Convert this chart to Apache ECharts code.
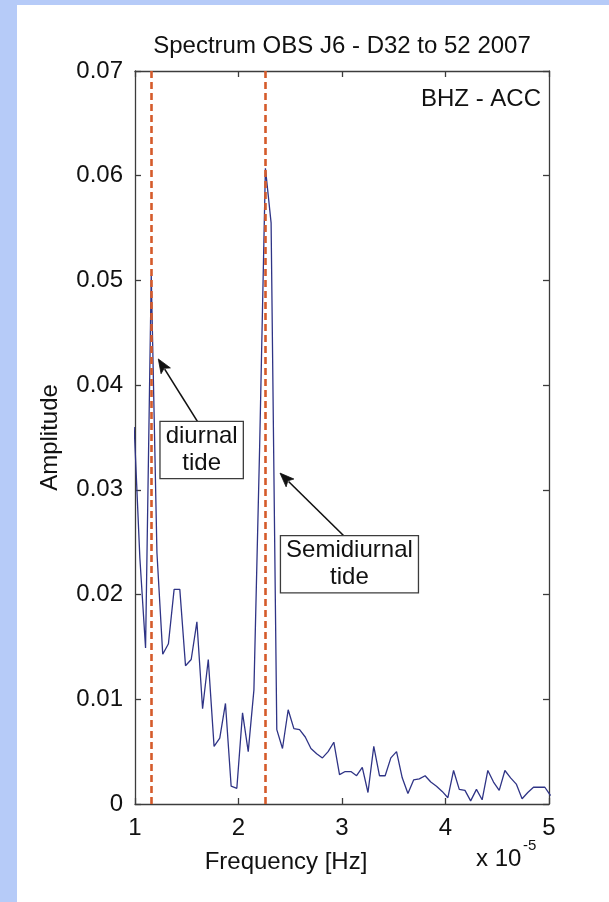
<!DOCTYPE html>
<html>
<head>
<meta charset="utf-8">
<script src="https://cdn.jsdelivr.net/npm/echarts@6/dist/echarts.min.js"></script>
<style>
  html, body { margin: 0; padding: 0; width: 609px; height: 902px; background: #b6cbf8; overflow: hidden; }
  #frame { position: absolute; left: 17px; top: 5px; right: 0; bottom: 0; background: #ffffff; }
  #chart { position: absolute; left: 0; top: 0; width: 609px; height: 902px; }
</style>
</head>
<body>
<div id="frame"></div>
<div id="chart"></div>
<script>
// Frequency bins (units of 1e-5 Hz) of the 21-day record
const frequency = [
  0.992, 1.047, 1.102, 1.157, 1.212, 1.268, 1.323, 1.378, 1.433, 1.488,
  1.543, 1.598, 1.653, 1.708, 1.764, 1.819, 1.874, 1.929, 1.984, 2.039,
  2.094, 2.149, 2.204, 2.260, 2.315, 2.370, 2.425, 2.480, 2.535, 2.590,
  2.645, 2.700, 2.755, 2.811, 2.866, 2.921, 2.976, 3.031, 3.086, 3.141,
  3.196, 3.251, 3.307, 3.362, 3.417, 3.472, 3.527, 3.582, 3.637, 3.692,
  3.747, 3.803, 3.858, 3.913, 3.968, 4.023, 4.078, 4.133, 4.188, 4.243,
  4.299, 4.354, 4.409, 4.464, 4.519, 4.574, 4.629, 4.684, 4.740, 4.795,
  4.850, 4.905, 4.960, 5.015
];

// Spectral amplitude at each bin
const amplitude = [
  0.0360, 0.0235, 0.0149, 0.0505, 0.0240, 0.0143, 0.0153, 0.0205, 0.0205, 0.0132,
  0.0138, 0.0174, 0.0091, 0.0138, 0.0055, 0.0063, 0.0096, 0.0017, 0.0015, 0.0087,
  0.0050, 0.0109, 0.0340, 0.0607, 0.0555, 0.0071, 0.0053, 0.0090, 0.0072, 0.0071,
  0.0064, 0.0053, 0.0048, 0.0044, 0.0050, 0.0059, 0.0028, 0.0031, 0.0031, 0.0027,
  0.0035, 0.0011, 0.0055, 0.0027, 0.0027, 0.0044, 0.0050, 0.0025, 0.0010, 0.0023,
  0.0024, 0.0027, 0.0021, 0.0017, 0.0012, 0.0006, 0.0032, 0.0014, 0.0013, 0.0003,
  0.0014, 0.0004, 0.0032, 0.0021, 0.0013, 0.0032, 0.0025, 0.0019, 0.0005, 0.0011,
  0.0016, 0.0016, 0.0016, 0.0008
];

// Tidal frequencies marked by dashed lines
const tideFrequencies = [1.157, 2.262];

// Axis ranges and tick steps
const xRange = [1, 5];
const xStep = 1;
const yRange = [0, 0.07];
const yStep = 0.01;

// Callouts: label text, box centre, arrow tail and arrow tip (data coordinates)
const calloutText = ['diurnal\ntide', 'Semidiurnal\ntide'];
const calloutBox = [[1.644, 0.0338], [3.072, 0.0229]];
const calloutTail = [[1.612, 0.0364], [3.029, 0.0255]];
const calloutTip = [[1.225, 0.0425], [2.401, 0.0316]];

const FONT = '"Liberation Sans", Arial, Helvetica, sans-serif';
const AXIS_COLOR = '#3c3c3c';
const FS = 24;

const chart = echarts.init(document.getElementById('chart'), null, { renderer: 'canvas' });

const gridBox = { left: 135, top: 71, width: 414, height: 733 };

function axisBase(extra) {
  return Object.assign({
    type: 'value',
    axisLine: { show: true, onZero: false, lineStyle: { color: AXIS_COLOR, width: 1.3 } },
    axisTick: { show: true, inside: true, length: 6, lineStyle: { color: AXIS_COLOR, width: 1.3 } },
    splitLine: { show: false }
  }, extra);
}

const seriesData = frequency.map((f, i) => [f, amplitude[i]]);

chart.setOption({
  animation: false,
  backgroundColor: 'transparent',
  grid: Object.assign({ containLabel: false }, gridBox),
  xAxis: [
    axisBase({
      min: xRange[0], max: xRange[1], interval: xStep, position: 'bottom',
      axisLabel: { show: true, color: '#111', fontFamily: FONT, fontSize: FS, margin: 12 }
    }),
    axisBase({
      min: xRange[0], max: xRange[1], interval: xStep, position: 'top',
      axisLabel: { show: false }
    })
  ],
  yAxis: [
    axisBase({
      min: yRange[0], max: yRange[1], interval: yStep, position: 'left',
      axisLabel: {
        show: true, color: '#111', fontFamily: FONT, fontSize: FS, margin: 12,
        formatter: v => (Math.abs(v) < 1e-9 ? '0' : v.toFixed(2))
      }
    }),
    axisBase({
      min: yRange[0], max: yRange[1], interval: yStep, position: 'right',
      axisLabel: { show: false }
    })
  ],
  series: [{
    type: 'line',
    data: seriesData,
    xAxisIndex: 0,
    yAxisIndex: 0,
    showSymbol: false,
    clip: true,
    lineStyle: { color: '#2f3486', width: 1.3 },
    markLine: {
      silent: true,
      symbol: 'none',
      label: { show: false },
      lineStyle: { color: '#d55b2b', width: 2.6, type: [7, 4] },
      data: tideFrequencies.map(f => ({ xAxis: f }))
    }
  }]
});

// Free text and callouts, placed after the axes exist
const gx = gridBox.left, gy = gridBox.top, gw = gridBox.width, gh = gridBox.height;
const graphics = [
  {
    type: 'text', x: gx + gw / 2, y: 46,
    style: { text: 'Spectrum OBS J6 - D32 to 52 2007', font: FS + 'px ' + FONT, fill: '#111', align: 'center', verticalAlign: 'middle' }
  },
  {
    type: 'text', x: gx + gw - 8, y: gy + 28,
    style: { text: 'BHZ - ACC', font: FS + 'px ' + FONT, fill: '#111', align: 'right', verticalAlign: 'middle' }
  },
  {
    type: 'text', x: 50, y: gy + gh / 2, rotation: Math.PI / 2,
    style: { text: 'Amplitude', font: FS + 'px ' + FONT, fill: '#111', align: 'center', verticalAlign: 'middle' }
  },
  {
    type: 'text', x: 286, y: 862,
    style: { text: 'Frequency [Hz]', font: FS + 'px ' + FONT, fill: '#111', align: 'center', verticalAlign: 'middle' }
  },
  {
    type: 'text', x: 476, y: 859,
    style: { text: 'x 10', font: FS + 'px ' + FONT, fill: '#111', align: 'left', verticalAlign: 'middle' }
  },
  {
    type: 'text', x: 523, y: 846,
    style: { text: '-5', font: '15px ' + FONT, fill: '#111', align: 'left', verticalAlign: 'middle' }
  }
];

calloutText.forEach((txt, i) => {
  const tail = chart.convertToPixel({ gridIndex: 0 }, calloutTail[i]);
  const tip = chart.convertToPixel({ gridIndex: 0 }, calloutTip[i]);
  const box = chart.convertToPixel({ gridIndex: 0 }, calloutBox[i]);
  const dx = tip[0] - tail[0], dy = tip[1] - tail[1];
  const len = Math.hypot(dx, dy);
  const ux = dx / len, uy = dy / len;
  const headLen = 14, headHalf = 5.5;
  const bx = tip[0] - ux * headLen, by = tip[1] - uy * headLen;
  graphics.push({
    type: 'line', z: 100,
    shape: { x1: tail[0], y1: tail[1], x2: bx + ux * 2, y2: by + uy * 2 },
    style: { stroke: '#111', lineWidth: 1.6 }
  });
  graphics.push({
    type: 'polygon', z: 100,
    shape: { points: [tip, [bx - uy * headHalf, by + ux * headHalf], [bx + ux * 3, by + uy * 3], [bx + uy * headHalf, by - ux * headHalf]] },
    style: { fill: '#111', stroke: '#111', lineWidth: 0.8 }
  });
  graphics.push({
    type: 'text', z: 101, x: box[0], y: box[1],
    style: {
      text: txt, font: FS + 'px ' + FONT, fill: '#111', align: 'center', verticalAlign: 'middle',
      lineHeight: 27, backgroundColor: '#ffffff', borderColor: '#3c3c3c', borderWidth: 1.3,
      padding: [1, 5, 1, 5]
    }
  });
});

chart.setOption({ graphic: graphics });
</script>
</body>
</html>
